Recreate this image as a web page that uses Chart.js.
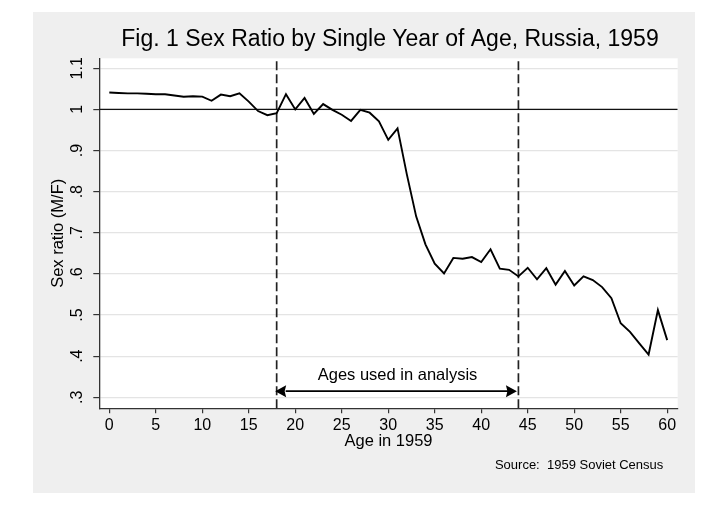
<!DOCTYPE html>
<html>
<head>
<meta charset="utf-8">
<script src="https://cdn.jsdelivr.net/npm/chart.js@4/dist/chart.umd.min.js"></script>
<style>
html,body{margin:0;padding:0;background:#ffffff;}
#frame{position:absolute;left:33px;top:12px;width:662px;height:481px;background:#efefef;}
canvas{display:block;}
</style>
</head>
<body>
<div id="frame"><canvas id="c" width="662" height="481"></canvas></div>
<script>
// ---- data ----
const ages = [0,1,2,3,4,5,6,7,8,9,10,11,12,13,14,15,16,17,18,19,20,21,22,23,24,25,26,27,28,29,30,
  31,32,33,34,35,36,37,38,39,40,41,42,43,44,45,46,47,48,49,50,51,52,53,54,55,56,57,58,59,60];
const sexRatio = [1.041,1.040,1.039,1.039,1.038,1.037,1.037,1.034,1.031,1.032,1.031,1.021,1.036,1.032,1.039,
  1.019,0.996,0.986,0.991,1.037,1.000,1.028,0.989,1.013,0.999,0.987,0.972,0.999,0.992,0.971,0.926,
  0.954,0.842,0.740,0.672,0.625,0.601,0.639,0.637,0.641,0.629,0.660,0.613,0.610,0.594,0.615,0.587,
  0.614,0.574,0.607,0.572,0.594,0.585,0.568,0.541,0.480,0.459,0.431,0.404,0.512,0.439];
const xTicks = [0,5,10,15,20,25,30,35,40,45,50,55,60];
const yTicks = [0.3,0.4,0.5,0.6,0.7,0.8,0.9,1.0,1.1];
const yTickLabels = ['.3','.4','.5','.6','.7','.8','.9','1','1.1'];
const parityLevel = [1];
const analysisAges = [18, 44];
const arrowLevel = [0.315];
const xRange = [-1.075, 61.13];
const yRange = [0.2733, 1.1243];

const titleText = 'Fig. 1 Sex Ratio by Single Year of Age, Russia, 1959';
const xTitle = 'Age in 1959';
const yTitle = 'Sex ratio (M/F)';
const arrowText = 'Ages used in analysis';
const sourceText = 'Source:  1959 Soviet Census';

const FONT = "'Liberation Sans', Arial, Helvetica, sans-serif";

const mainData = ages.map((a, i) => ({x: a, y: sexRatio[i]}));
const parityData = [{x: xRange[0], y: parityLevel[0]}, {x: xRange[1], y: parityLevel[0]}];
const vline = a => [{x: a, y: yRange[0]}, {x: a, y: yRange[1]}];

const decor = {
  id: 'decor',
  beforeDraw(chart) {
    const {ctx, chartArea: ca} = chart;
    ctx.save();
    ctx.fillStyle = '#ffffff';
    ctx.fillRect(ca.left, ca.top, ca.right - ca.left, ca.bottom - ca.top);
    ctx.restore();
  },
  afterDraw(chart) {
    const {ctx, chartArea: ca} = chart;
    const xs = chart.scales.x, ys = chart.scales.y;
    ctx.save();
    ctx.fillStyle = '#000';
    // title
    ctx.font = '23px ' + FONT;
    ctx.textAlign = 'center';
    ctx.textBaseline = 'alphabetic';
    ctx.fillText(titleText, (ca.left + ca.right) / 2 + 1.5, ca.top - 12.6);
    // y tick labels (rotated)
    ctx.font = '16px ' + FONT;
    ctx.textBaseline = 'middle';
    yTicks.forEach((v, i) => {
      ctx.save();
      ctx.translate(ca.left - 22, ys.getPixelForValue(v));
      ctx.rotate(-Math.PI / 2);
      ctx.fillText(yTickLabels[i], 0, 0);
      ctx.restore();
    });
    // y title
    ctx.font = '16.5px ' + FONT;
    ctx.save();
    ctx.translate(ca.left - 41, (ca.top + ca.bottom) / 2);
    ctx.rotate(-Math.PI / 2);
    ctx.fillText(yTitle, 0, 0);
    ctx.restore();
    // x title
    ctx.textBaseline = 'alphabetic';
    ctx.fillText(xTitle, (ca.left + ca.right) / 2, ca.bottom + 37.7);
    // arrow
    const x1 = xs.getPixelForValue(analysisAges[0]);
    const x2 = xs.getPixelForValue(analysisAges[1]);
    const ay = ys.getPixelForValue(arrowLevel[0]);
    const hl = 11, hw = 6;
    ctx.strokeStyle = '#000';
    ctx.lineWidth = 1.6;
    ctx.beginPath();
    ctx.moveTo(x1 + hl - 2, ay);
    ctx.lineTo(x2 - hl + 2, ay);
    ctx.stroke();
    ctx.beginPath();
    ctx.moveTo(x1 - 1.5, ay);
    ctx.lineTo(x1 - 1.5 + hl, ay - hw);
    ctx.lineTo(x1 - 1.5 + hl - 1.5, ay);
    ctx.lineTo(x1 - 1.5 + hl, ay + hw);
    ctx.closePath();
    ctx.fill();
    ctx.beginPath();
    ctx.moveTo(x2 - 1.5, ay);
    ctx.lineTo(x2 - 1.5 - hl, ay - hw);
    ctx.lineTo(x2 - 1.5 - hl + 1.5, ay);
    ctx.lineTo(x2 - 1.5 - hl, ay + hw);
    ctx.closePath();
    ctx.fill();
    // arrow label
    ctx.fillText(arrowText, (x1 + x2) / 2, ay - 11);
    // source note
    ctx.font = '13px ' + FONT;
    ctx.textAlign = 'right';
    ctx.fillText(sourceText, ca.right - 14.4, ca.bottom + 60.7);
    ctx.restore();
  }
};

new Chart(document.getElementById('c'), {
  type: 'line',
  data: {
    datasets: [
      {data: mainData, borderColor: '#000', borderWidth: 1.9, pointRadius: 0, tension: 0, fill: false},
      {data: parityData, borderColor: '#111', borderWidth: 1.2, pointRadius: 0, fill: false},
      {data: vline(analysisAges[0]), borderColor: '#222', borderWidth: 1.7, borderDash: [9, 4], pointRadius: 0, fill: false},
      {data: vline(analysisAges[1]), borderColor: '#222', borderWidth: 1.7, borderDash: [9, 4], pointRadius: 0, fill: false}
    ]
  },
  options: {
    responsive: false,
    animation: false,
    parsing: true,
    layout: {padding: {left: 0, top: 46.3, right: 17.3, bottom: 44.7}},
    plugins: {legend: {display: false}, tooltip: {enabled: false}, title: {display: false}},
    scales: {
      x: {
        type: 'linear', min: xRange[0], max: xRange[1],
        afterBuildTicks: s => { s.ticks = xTicks.map(v => ({value: v})); },
        afterFit: s => { s.height = 40; },
        grid: {drawOnChartArea: false, drawTicks: true, tickLength: 5, tickColor: '#333', lineWidth: 1.2},
        border: {display: true, color: '#333', width: 1.3},
        ticks: {color: '#000', font: {family: FONT, size: 16}, padding: 3, maxRotation: 0, autoSkip: false,
                callback: v => String(v)}
      },
      y: {
        type: 'linear', min: yRange[0], max: yRange[1],
        afterBuildTicks: s => { s.ticks = yTicks.map(v => ({value: v})); },
        afterFit: s => { s.width = 66.3; },
        grid: {color: '#e4e4e4', lineWidth: 1.2, drawTicks: true, tickLength: 6, tickColor: '#333'},
        border: {display: true, color: '#333', width: 1.3},
        ticks: {display: false}
      }
    }
  },
  plugins: [decor]
});
</script>
</body>
</html>
